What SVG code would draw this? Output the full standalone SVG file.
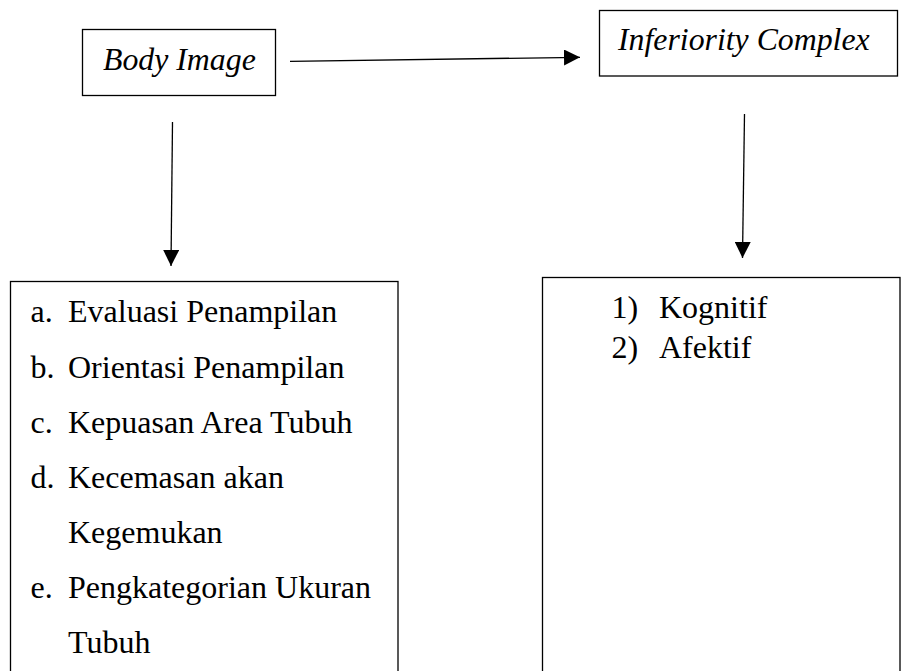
<svg xmlns="http://www.w3.org/2000/svg" width="910" height="671" viewBox="0 0 910 671">
  <style>
    .box { fill: #fff; stroke: #000; stroke-width: 1.3; }
    .conn { stroke: #000; stroke-width: 1.3; fill: none; }
    .t { font-family: 'Liberation Serif', Tinos, 'Times New Roman', 'DejaVu Serif', serif; font-size: 32px; fill: #000; }
    .ti { font-style: italic; font-size: 31.8px; }
  </style>
  <defs>
    <marker id="arr" markerUnits="userSpaceOnUse" markerWidth="16" markerHeight="16" viewBox="0 0 15 15" refX="15" refY="7.5" orient="auto">
      <path d="M0,0 L15,7.5 L0,15 z" fill="#000"/>
    </marker>
  </defs>
  <rect width="910" height="671" fill="#fff"/>

  <g id="node-body-image">
    <rect class="box" x="82.5" y="29.5" width="193" height="66"/>
    <text class="t ti" x="103" y="70">Body Image</text>
  </g>

  <g id="node-inferiority-complex">
    <rect class="box" x="599.5" y="10.5" width="298" height="65.5"/>
    <text class="t ti" x="618" y="50">Inferiority Complex</text>
  </g>

  <g id="node-body-image-aspects">
    <rect class="box" x="10.5" y="281.5" width="387.5" height="420"/>
    <text class="t" x="30.5" y="322">a.</text>
    <text class="t" x="68" y="322">Evaluasi Penampilan</text>
    <text class="t" x="30.5" y="378">b.</text>
    <text class="t" x="68" y="378">Orientasi Penampilan</text>
    <text class="t" x="30.5" y="433">c.</text>
    <text class="t" x="68" y="433">Kepuasan Area Tubuh</text>
    <text class="t" x="30.5" y="488">d.</text>
    <text class="t" x="68" y="488">Kecemasan akan</text>
    <text class="t" x="68" y="542.5">Kegemukan</text>
    <text class="t" x="30.5" y="597.5">e.</text>
    <text class="t" x="68" y="597.5">Pengkategorian Ukuran</text>
    <text class="t" x="68" y="652.5">Tubuh</text>
  </g>

  <g id="node-inferiority-aspects">
    <rect class="box" x="542.5" y="277.5" width="357.5" height="420"/>
    <text class="t" x="611.5" y="318">1)</text>
    <text class="t" x="659" y="318">Kognitif</text>
    <text class="t" x="611.5" y="357.5">2)</text>
    <text class="t" x="659" y="357.5">Afektif</text>
  </g>

  <g id="connectors">
    <path class="conn" d="M290,61.3 L580,57.3" marker-end="url(#arr)"/>
    <path class="conn" d="M172.5,122 L171,266" marker-end="url(#arr)"/>
    <path class="conn" d="M744.5,114 L742.5,258" marker-end="url(#arr)"/>
  </g>
</svg>
